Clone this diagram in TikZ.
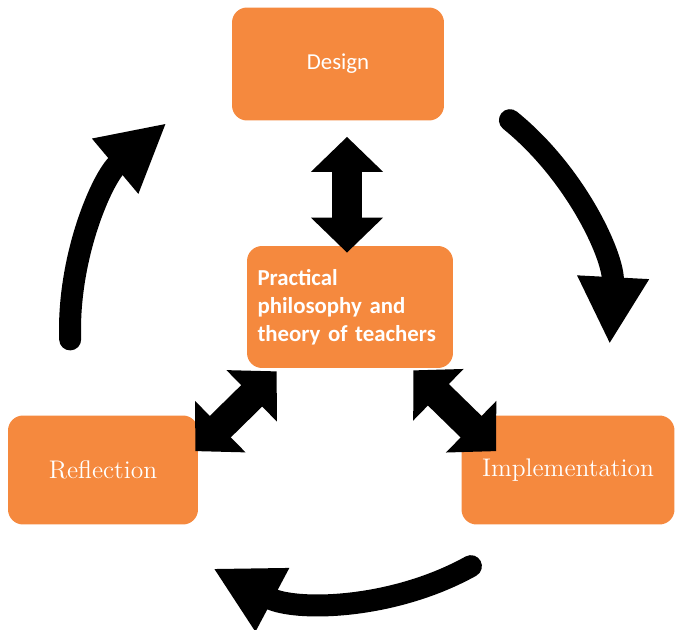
\documentclass[tikz,border=0pt]{standalone}
\usepackage{fontspec}
\newfontfamily\calibri{Carlito}
\usetikzlibrary{arrows.meta,calc}

\definecolor{boxorange}{RGB}{245,137,62}

\tikzset{
  stage/.style={fill=boxorange, rounded corners=0.3cm, text=white, inner sep=0pt},
  blockarrow/.style={line width=0.6cm,
    {Triangle[width=1.4cm,length=0.7cm]}-{Triangle[width=1.4cm,length=0.7cm]}},
  cyclearrow/.style={line width=0.44cm, line cap=round,
    -{Triangle[width=1.34cm,length=1.34cm]}}
}

\begin{document}
\begin{tikzpicture}[x=0.02cm, y=0.02cm]

    % page frame
    \useasboundingbox (0,0) rectangle (676,629);

    % the four boxes
    \node[stage, minimum width=4.24cm, minimum height=2.26cm,
          font=\calibri\fontsize{13}{16}\selectfont] (design) at (338,565) {Design};
    \node[stage, minimum height=2.44cm, text width=3.7cm, inner xsep=0.21cm, align=left,
          font=\calibri\bfseries\fontsize{13}{16}\selectfont] (theory) at (350,322)
          {Practical\\ philosophy and\\ theory of teachers};
    \node[stage, minimum width=3.8cm, minimum height=2.18cm,
          font=\fontsize{14.5}{17}\selectfont] (reflection) at (103,159) {Reflection};
    \node[stage, minimum width=4.26cm, minimum height=2.18cm,
          font=\fontsize{14.5}{17}\selectfont] (implementation) at (568,159) {Implementation};

    % ends of the double arrows
    \coordinate (d1) at ($(design.south)+(9,-16)$);
    \coordinate (d2) at ($(theory.north)+(-3,-7)$);
    \coordinate (r1) at ($(theory.south west)+(30,-3)$);
    \coordinate (r2) at ($(reflection.north east)+(-3,-36)$);
    \coordinate (i1) at ($(theory.south east)+(-40,-2)$);
    \coordinate (i2) at ($(implementation.north west)+(35,-36)$);

    \draw[blockarrow] (d1) -- (d2);
    \draw[blockarrow] (r1) -- (r2);
    \draw[blockarrow] (i1) -- (i2);

    % the cycle round the middle box
    \coordinate (hub) at (340,299);
    \draw[cyclearrow] (hub) ++(51:270) arc[start angle=51, end angle=-3, radius=270];
    \draw[cyclearrow] (hub) ++(-61:270) arc[start angle=-61, end angle=-118, radius=270];
    \draw[cyclearrow] (hub) ++(182:270) arc[start angle=182, end angle=130, radius=270];

\end{tikzpicture}
\end{document}
